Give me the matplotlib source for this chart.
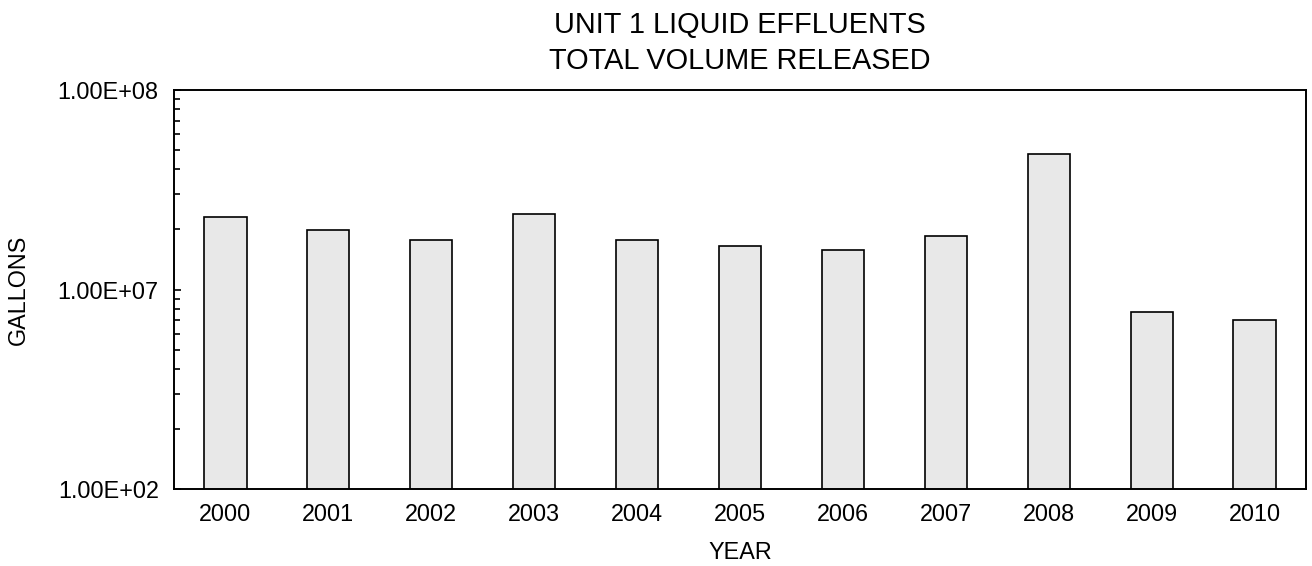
import numpy as np
import matplotlib
matplotlib.use('Agg')
import matplotlib.pyplot as plt
from matplotlib.ticker import FixedLocator, LogLocator, NullFormatter

# Data (gallons per year)
years = ['2000', '2001', '2002', '2003', '2004', '2005',
         '2006', '2007', '2008', '2009', '2010']
gallons = [2.31e7, 1.99e7, 1.78e7, 2.38e7, 1.78e7, 1.65e7,
           1.58e7, 1.86e7, 4.80e7, 7.7e6, 7.05e6]

# y ticks as printed on the original (bottom label is odd but kept)
ytick_vals = [1e6, 1e7, 1e8]
ytick_labels = ['1.00E+02', '1.00E+07', '1.00E+08']

plt.rcParams['font.family'] = ['Liberation Sans', 'DejaVu Sans']

fig = plt.figure(figsize=(13.12, 5.66), dpi=100)
ax = fig.add_axes([0.1326, 0.136, 0.8628, 0.705])

x = np.arange(len(years))
ax.bar(x, gallons, width=0.41, color='#e8e8e8', edgecolor='black', linewidth=1.2)

ax.set_yscale('log')
ax.set_ylim(1e6, 1e8)
ax.set_xlim(-0.5, 10.5)

ax.yaxis.set_major_locator(FixedLocator(ytick_vals))
ax.set_yticklabels(ytick_labels)
ax.yaxis.set_minor_locator(LogLocator(base=10, subs=np.arange(2, 10)))
ax.yaxis.set_minor_formatter(NullFormatter())

ax.set_xticks(x)
ax.set_xticklabels(years)

ax.tick_params(axis='y', which='both', direction='in', left=True, right=False,
               width=1.2, labelsize=16.8, pad=11)
ax.tick_params(axis='y', which='major', length=5)
ax.tick_params(axis='y', which='minor', length=4)
ax.tick_params(axis='x', length=0, labelsize=16.8, pad=10)

for s in ax.spines.values():
    s.set_linewidth(1.4)

ax.set_ylabel('GALLONS', fontsize=16.8)
ax.yaxis.set_label_coords(-0.127, 0.5)
ax.set_xlabel('YEAR', fontsize=16.8)
ax.xaxis.set_label_coords(0.5, -0.13)

ax.set_title('UNIT 1 LIQUID EFFLUENTS\nTOTAL VOLUME RELEASED', fontsize=20.8,
             pad=15, linespacing=1.35)

plt.savefig('out.png', dpi=100)
